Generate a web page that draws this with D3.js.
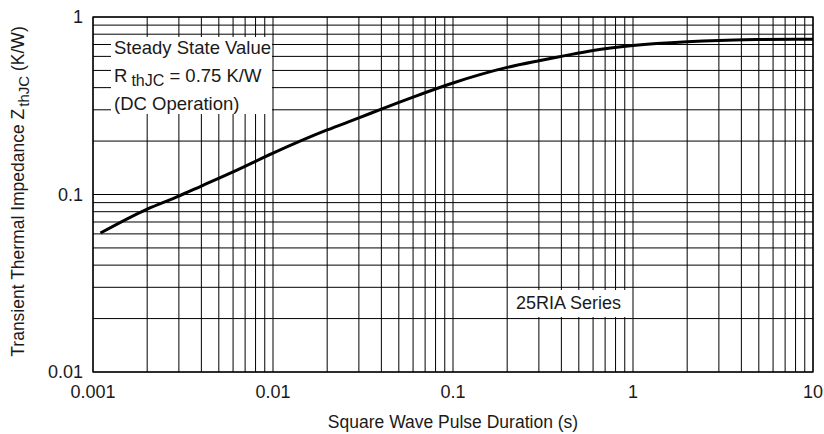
<!DOCTYPE html>
<html>
<head>
<meta charset="utf-8">
<script src="https://cdn.jsdelivr.net/npm/d3@7"></script>
<style>
  body { margin: 0; background: #fff; }
  text { font-family: "Liberation Sans", Arial, sans-serif; fill: #1a1a1a; }
</style>
</head>
<body>
<div id="chart"></div>
<script>
// Data
const pulseDuration = [0.0011, 0.002, 0.003, 0.004, 0.006, 0.01, 0.02, 0.03, 0.04, 0.06, 0.1, 0.2, 0.3, 0.4, 0.6, 1, 2, 3, 5, 10];
const impedance = [0.0607, 0.0828, 0.098, 0.1116, 0.134, 0.171, 0.231, 0.270, 0.303, 0.354, 0.425, 0.520, 0.567, 0.600, 0.648, 0.690, 0.725, 0.738, 0.746, 0.75];
const xTicks = [0.001, 0.01, 0.1, 1, 10];
const xTickLabels = ["0.001", "0.01", "0.1", "1", "10"];
const yTicks = [0.01, 0.1, 1];
const yTickLabels = ["0.01", "0.1", "1"];

const width = 824, height = 434;
const margin = {top: 17, right: 11, bottom: 62, left: 93};

const x = d3.scaleLog()
  .domain([0.001, 10])
  .range([margin.left, width - margin.right]);
const y = d3.scaleLog()
  .domain([0.01, 1])
  .range([height - margin.bottom, margin.top]);

const svg = d3.select("#chart").append("svg")
  .attr("width", width)
  .attr("height", height);

// grid lines at 1..9 of every decade
const gridX = [], gridY = [];
for (let p = -3; p < 1; p++) for (let k = 1; k < 10; k++) gridX.push(k * Math.pow(10, p));
gridX.push(10);
for (let p = -2; p < 0; p++) for (let k = 1; k < 10; k++) gridY.push(k * Math.pow(10, p));
gridY.push(1);

const grid = svg.append("g")
  .attr("stroke", "#000")
  .attr("stroke-width", 1);

grid.selectAll("line.v").data(gridX).join("line")
  .attr("class", "v")
  .attr("x1", d => x(d)).attr("x2", d => x(d))
  .attr("y1", y(0.01)).attr("y2", y(1));

grid.selectAll("line.h").data(gridY).join("line")
  .attr("class", "h")
  .attr("x1", x(0.001)).attr("x2", x(10))
  .attr("y1", d => y(d)).attr("y2", d => y(d));

// frame
svg.append("rect")
  .attr("x", x(0.001)).attr("y", y(1))
  .attr("width", x(10) - x(0.001))
  .attr("height", y(0.01) - y(1))
  .attr("fill", "none")
  .attr("stroke", "#000")
  .attr("stroke-width", 1.3);

// curve
const line = d3.line()
  .x((d, i) => x(pulseDuration[i]))
  .y(d => y(d))
  .curve(d3.curveMonotoneX);

svg.append("path")
  .datum(impedance)
  .attr("fill", "none")
  .attr("stroke", "#000")
  .attr("stroke-width", 3)
  .attr("d", line);

// annotation boxes
const note = svg.append("g");
note.append("rect")
  .attr("x", 111).attr("y", 37).attr("width", 161).attr("height", 77)
  .attr("fill", "#fff");
const noteText = note.append("g").attr("font-size", 18.5);
noteText.append("text").attr("x", 114).attr("y", 54).text("Steady State Value");
const r = noteText.append("text").attr("x", 114).attr("y", 82);
r.append("tspan").text("R");
r.append("tspan").attr("dx", 4).attr("dy", 4).attr("font-size", 16).text("thJC");
r.append("tspan").attr("dy", -4).text(" = 0.75 K/W");
noteText.append("text").attr("x", 114).attr("y", 110).text("(DC Operation)");

note.append("rect")
  .attr("x", 513).attr("y", 290).attr("width", 113).attr("height", 27)
  .attr("fill", "#fff");
note.append("text")
  .attr("x", 516).attr("y", 309)
  .attr("font-size", 18)
  .text("25RIA Series");

// tick labels
svg.append("g").selectAll("text").data(xTicks).join("text")
  .attr("x", d => x(d))
  .attr("y", 398)
  .attr("text-anchor", "middle")
  .attr("font-size", 18)
  .text((d, i) => xTickLabels[i]);

svg.append("g").selectAll("text").data(yTicks).join("text")
  .attr("x", 83)
  .attr("y", d => y(d) + 6)
  .attr("text-anchor", "end")
  .attr("font-size", 18)
  .text((d, i) => yTickLabels[i]);

// axis titles
svg.append("text")
  .attr("x", x(0.1))
  .attr("y", 428)
  .attr("text-anchor", "middle")
  .attr("font-size", 17.5)
  .text("Square Wave Pulse Duration (s)");

const yt = svg.append("text")
  .attr("transform", "translate(24," + (y(0.1) - 3) + ") rotate(-90)")
  .attr("text-anchor", "middle")
  .attr("font-size", 17.5);
yt.append("tspan").text("Transient Thermal Impedance Z");
yt.append("tspan").attr("dx", 2).attr("dy", 5).attr("font-size", 15).text("thJC");
yt.append("tspan").attr("dy", -5).text(" (K/W)");
</script>
</body>
</html>
